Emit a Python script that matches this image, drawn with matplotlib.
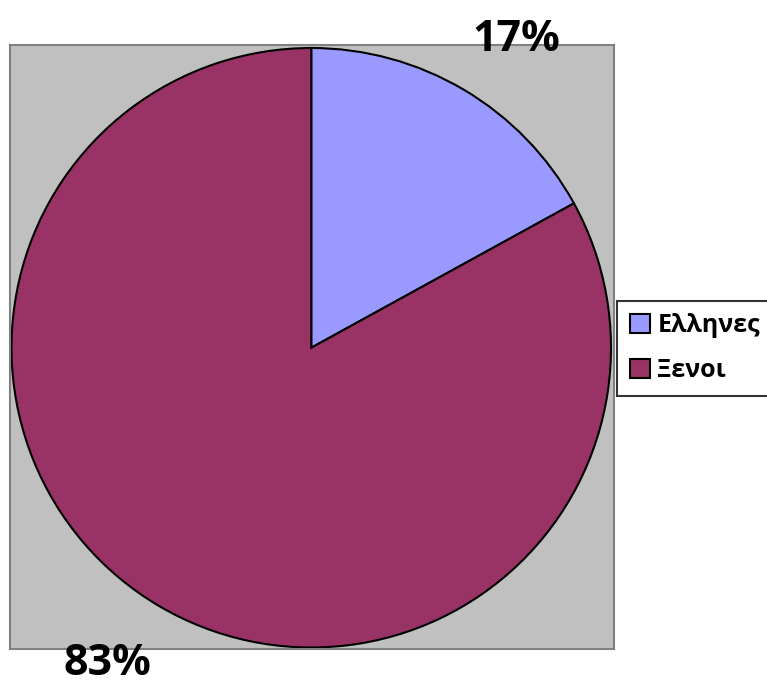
import matplotlib
matplotlib.use("Agg")
import matplotlib.pyplot as plt
from matplotlib.patches import Patch

labels = ["Ελληνες", "Ξενοι"]
values = [17, 83]
colors = ["#9999FF", "#993366"]
pct_labels = ["17%", "83%"]

plt.rcParams['font.family'] = ['Open Sans', 'DejaVu Sans']

W, H = 767, 682
fig = plt.figure(figsize=(W/100, H/100), dpi=100)
fig.patch.set_facecolor("white")

cx, cy, r = 312, 347, 302
ax = fig.add_axes([(cx - r)/W, (H - cy - r)/H, 2*r/W, 2*r/H])
wedges, texts = ax.pie(values, colors=colors, startangle=90, counterclock=False,
                       labels=pct_labels, labeldistance=1.245,
                       wedgeprops=dict(edgecolor="black", linewidth=1.5),
                       textprops=dict(fontsize=31, fontweight="bold", color="black"))
# label placement (layout, in axes data units)
label_pos = [(0.685, 0.99), (-0.679, -1.093)]
for t, p in zip(texts, label_pos):
    t.set_position(p)
    t.set_ha("center"); t.set_va("baseline")
    t.set_clip_on(False)
ax.set_frame_on(True)
ax.patch.set_visible(True)
ax.set_facecolor("#C0C0C0")
ax.set_xlim(-1.005, 1.01)
ax.set_ylim(-1.005, 1.01)
ax.set_aspect("auto")
ax.set_xticks([]); ax.set_yticks([])
for s in ax.spines.values():
    s.set_visible(True)
    s.set_edgecolor("#808080"); s.set_linewidth(1.5)

handles = [Patch(facecolor=c, edgecolor="black", linewidth=1.5) for c in colors]
leg = fig.legend(handles, labels, loc="center left", bbox_to_anchor=(617/W, 1 - 348/H),
                 prop=dict(size=18, weight="bold"), frameon=True, fancybox=False,
                 edgecolor="black", handlelength=0.8, handleheight=0.8,
                 handletextpad=0.32, borderpad=0.5, labelspacing=0.8,
                 borderaxespad=0)
leg.get_frame().set_linewidth(1.5)

fig.savefig("out.png", dpi=100)
